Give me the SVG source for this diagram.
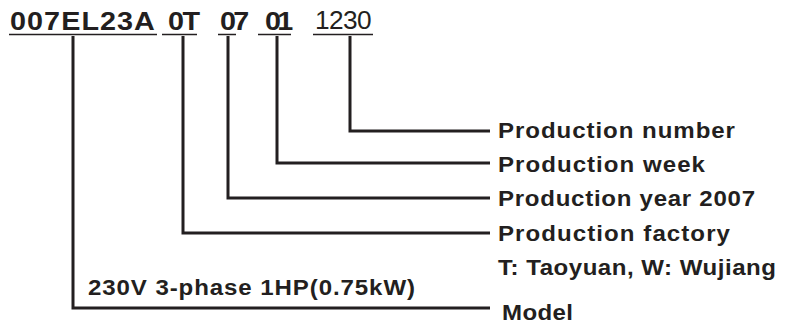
<svg xmlns="http://www.w3.org/2000/svg" width="788" height="327" viewBox="0 0 788 327">
<style>
.code{font-family:"Liberation Sans",Arial,sans-serif;font-weight:bold;font-size:25px;fill:#231f20}
.num{font-family:"Liberation Sans",Arial,sans-serif;font-weight:normal;font-size:25px;fill:#231f20}
.lbl{font-family:"Liberation Sans",Arial,sans-serif;font-weight:bold;font-size:21.5px;fill:#231f20}
.ul{stroke:#231f20;stroke-width:1.6;fill:none}
.conn{stroke:#231f20;stroke-width:3;fill:none;stroke-linejoin:miter}
</style>
<rect width="788" height="327" fill="#ffffff"/>
<g id="code">
<text class="code" transform="translate(10,30) scale(1.15,1)" textLength="126" lengthAdjust="spacing">007EL23A</text>
<text class="code" transform="translate(168,30) scale(1.15,1)" textLength="28" lengthAdjust="spacing">0T</text>
<text class="code" transform="translate(220,30) scale(1.15,1)" textLength="25.5" lengthAdjust="spacing">07</text>
<text class="code" transform="translate(265,30) scale(1.15,1)" textLength="24.5" lengthAdjust="spacing">01</text>
<text class="num" transform="translate(315,29) scale(1.05,1)" textLength="54" lengthAdjust="spacing">1230</text>
<path class="ul" d="M9,34.5H157M162,34.5H197M218,34.5H236M258,34.5H291M313,34.5H373"/>
</g>
<g id="connectors">
<path class="conn" d="M350,36V131H490"/>
<path class="conn" d="M277,36V163H490"/>
<path class="conn" d="M228,36V198H490"/>
<path class="conn" d="M183,36V233H490"/>
<path class="conn" d="M73,36V308H490"/>
</g>
<g id="n-number"><text class="lbl" transform="translate(498,138) scale(1.12,1)" textLength="211.6" lengthAdjust="spacing">Production number</text></g>
<g id="n-week"><text class="lbl" transform="translate(498,172) scale(1.12,1)" textLength="184.8" lengthAdjust="spacing">Production week</text></g>
<g id="n-year"><text class="lbl" transform="translate(498,206) scale(1.12,1)" textLength="229.5" lengthAdjust="spacing">Production year 2007</text></g>
<g id="n-factory"><text class="lbl" transform="translate(498,241) scale(1.12,1)" textLength="207.1" lengthAdjust="spacing">Production factory</text>
<text class="lbl" transform="translate(498,275) scale(1.12,1)" textLength="248.2" lengthAdjust="spacing">T: Taoyuan, W: Wujiang</text></g>
<g id="n-model"><text class="lbl" transform="translate(502,320) scale(1.12,1)" textLength="63.4" lengthAdjust="spacing">Model</text>
<text class="lbl" transform="translate(88,295) scale(1.12,1)" textLength="292" lengthAdjust="spacing">230V 3-phase 1HP(0.75kW)</text></g>
</svg>
